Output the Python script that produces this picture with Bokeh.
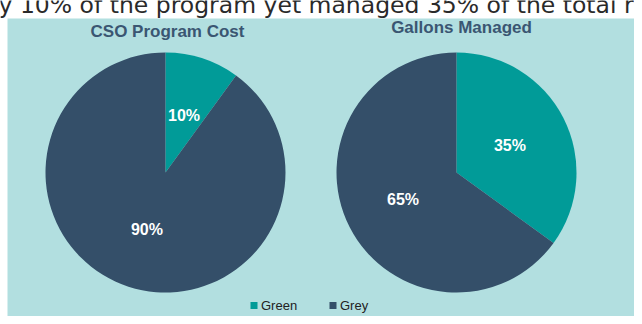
import math
from bokeh.plotting import figure
from bokeh.models import Range1d
from bokeh.core.properties import value
from bokeh.embed import file_html
from bokeh.resources import INLINE

# ---- data ----
headline = "y 10% of the program yet managed 35% of the total ra"
categories = ["Green", "Grey"]
chart_titles = ["CSO Program Cost", "Gallons Managed"]
cost_share = [10, 90]
gallons_share = [35, 65]
series = [cost_share, gallons_share]

# ---- style ----
BG = "#b2dfe0"
COLORS = ["#019b98", "#344f69"]
TITLE_COLOR = "#3a5672"

W, H = 634, 316


def X(px):
    return px


def Y(py):
    return H - py


p = figure(width=W, height=H, x_range=Range1d(0, W), y_range=Range1d(0, H),
           output_backend="svg", toolbar_location=None, min_border=0)
p.axis.visible = False
p.grid.visible = False
p.outline_line_color = None
p.background_fill_color = "white"
p.border_fill_color = "white"

# panel
p.quad(left=X(7), right=X(W + 2), top=Y(18), bottom=Y(H + 2),
       fill_color=BG, line_color=None)

# headline (cut at top, as in the source)
p.text(x=[X(-2)], y=[Y(4)], text=[headline], text_font=value("DejaVu Sans"),
       text_font_size="23.5px", text_color="#2a2a2a", text_baseline="alphabetic",
       text_align="left")

centers = [(165, 172), (456, 172)]
R = 120
title_y = [31, 27]
title_dx = [2, 5]

for k, vals in enumerate(series):
    cx, cy = centers[k]
    total = float(sum(vals))
    start = math.pi / 2
    starts, ends, lx, ly, labels = [], [], [], [], []
    for v in vals:
        sweep = v / total * 2 * math.pi
        end = start - sweep
        starts.append(start)
        ends.append(end)
        mid = (start + end) / 2
        lx.append(X(cx) + 0.5 * R * math.cos(mid))
        ly.append(Y(cy) + 0.5 * R * math.sin(mid))
        labels.append(f"{v}%")
        start = end
    p.wedge(x=[X(cx)] * len(vals), y=[Y(cy)] * len(vals), radius=R,
            start_angle=starts, end_angle=ends, direction="clock",
            fill_color=COLORS, line_color=None)
    p.text(x=lx, y=ly, text=labels, text_font=value("Liberation Sans"),
           text_font_style="bold", text_font_size="16px", text_color="white",
           text_align="center", text_baseline="middle")
    p.text(x=[X(cx + title_dx[k])], y=[Y(title_y[k])], text=[chart_titles[k]],
           text_font=value("Liberation Sans"), text_font_style="bold",
           text_font_size="17px", text_color=TITLE_COLOR,
           text_align="center", text_baseline="middle")

# legend
leg_x = [X(253.5 + 79 * i) for i in range(len(categories))]
leg_y = [Y(305)] * len(categories)
p.scatter(x=leg_x, y=leg_y, marker="square", size=7, fill_color=COLORS,
          line_color=None)
p.text(x=[v + 7 for v in leg_x], y=leg_y, text=categories,
       text_font=value("Liberation Sans"), text_font_size="13px",
       text_color="#222222", text_align="left", text_baseline="middle")

open("out.html", "w").write(file_html(p, INLINE))
